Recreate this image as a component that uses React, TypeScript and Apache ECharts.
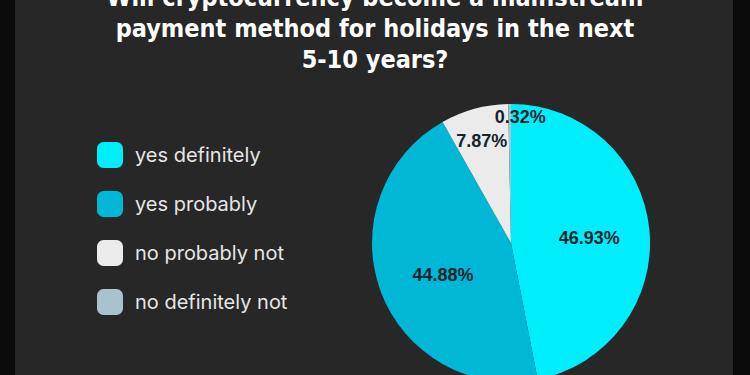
import React, { useEffect, useRef } from "react";
import * as echarts from "echarts";

const categories = ["yes definitely", "yes probably", "no probably not", "no definitely not"];
const values = [46.93, 44.88, 7.87, 0.32];
const colors = ["#00eefc", "#00b7d5", "#ebebeb", "#a8c3cb"];
const labelOffsets = [[6, 2], [0, 7], [-10, -32], [10, -54]];
const titleText = "Will cryptocurrency become a mainstream\npayment method for holidays in the next\n5-10 years?";

export default function App() {
  const ref = useRef<HTMLDivElement>(null);
  useEffect(() => {
    document.body.style.margin = "0";
    const chart = echarts.init(ref.current!, null, { renderer: "svg" });
    chart.setOption({
      animation: false,
      backgroundColor: "#0b0b0b",
      graphic: [
        {
          type: "rect",
          z: -10,
          silent: true,
          shape: { x: 15, y: 0, width: 718, height: 375 },
          style: { fill: "#272727" },
        },
      ],
      title: {
        text: titleText,
        left: "center",
        top: -18,
        padding: 0,
        textStyle: {
          color: "#ffffff",
          fontFamily: "'Liberation Sans Narrow', 'DejaVu Sans Condensed', sans-serif",
          fontWeight: "bold",
          fontSize: 25,
          lineHeight: 31,
        },
      },
      legend: {
        orient: "vertical",
        left: 97,
        top: 142,
        padding: 0,
        itemWidth: 26,
        itemHeight: 26,
        itemGap: 23,
        icon: "roundRect",
        data: categories,
        textStyle: {
          color: "#e6e6e6",
          fontSize: 20,
          fontFamily: "Inter, sans-serif",
          padding: [0, 0, 0, 7],
        },
      },
      series: [
        {
          type: "pie",
          center: [511, 243],
          radius: 139,
          startAngle: 90,
          clockwise: true,
          avoidLabelOverlap: false,
          label: {
            show: true,
            position: "inner",
            formatter: (p: any) => p.value.toFixed(2) + "%",
            color: "#14252c",
            fontSize: 18,
            fontWeight: "bold",
            fontFamily: "'Liberation Sans', Arial, sans-serif",
          },
          labelLine: { show: false },
          emphasis: { disabled: true },
          data: categories.map((c, i) => ({
            name: c,
            value: values[i],
            itemStyle: { color: colors[i] },
            label: { offset: labelOffsets[i] },
          })),
        },
      ],
    });
    return () => chart.dispose();
  }, []);
  return (
    <div
      ref={ref}
      style={{ position: "fixed", left: 0, top: 0, width: 750, height: 375 }}
    />
  );
}
